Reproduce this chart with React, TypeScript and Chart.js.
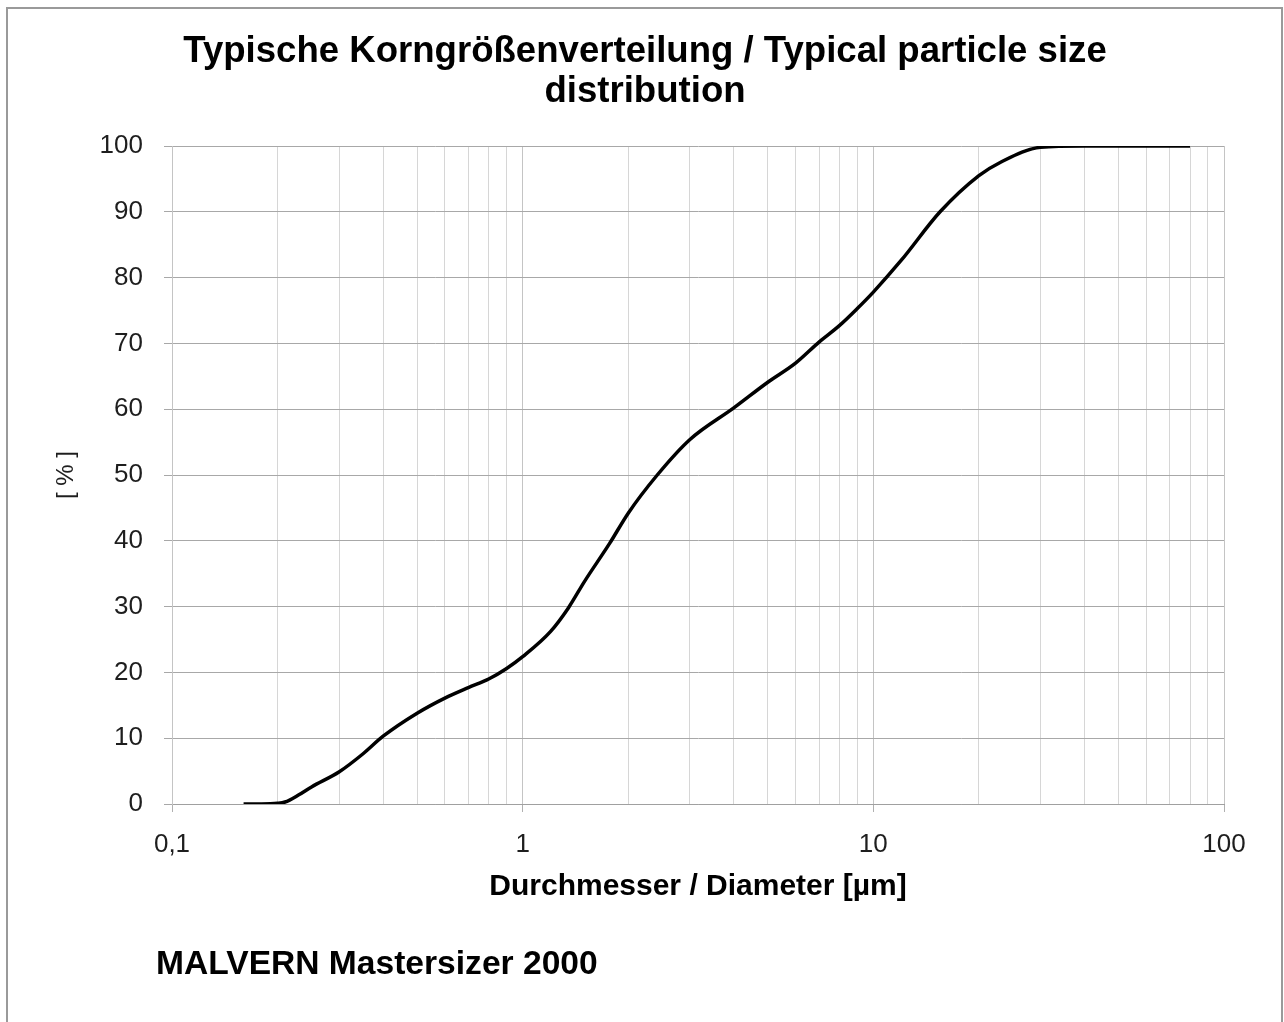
import React, { useEffect, useRef } from "react";
import { Chart, registerables } from "chart.js";

Chart.register(...registerables);

// ---- Text ----
const TITLE_LINES = ["Typische Korngrößenverteilung / Typical particle size", "distribution"];
const X_TITLE = "Durchmesser / Diameter [µm]";
const Y_TITLE = "[ % ]";
const FOOTNOTE = "MALVERN Mastersizer 2000";

// ---- Data ----
const diameters = [0.16, 0.18, 0.2, 0.21, 0.23, 0.25, 0.3, 0.35, 0.4, 0.5, 0.6, 0.7, 0.8, 0.9, 1, 1.2, 1.35, 1.5, 1.77, 2, 2.42, 3, 4, 5, 6, 7, 8, 9, 10, 12, 15.5, 20, 23, 30, 40, 50, 60, 80];
const cumulative = [0, 0, 0.1, 0.3, 1.4, 2.6, 4.9, 7.6, 10.3, 13.8, 16.1, 17.7, 19.0, 20.6, 22.4, 26.2, 29.8, 33.8, 39.6, 44.2, 50, 55.4, 60.2, 64.1, 67, 70.2, 72.7, 75.3, 77.8, 82.6, 90, 95.5, 97.5, 99.8, 100, 100, 100, 100];

// ---- Axis ticks ----
const xGridValues = [0.1, 0.2, 0.3, 0.4, 0.5, 0.6, 0.7, 0.8, 0.9, 1, 2, 3, 4, 5, 6, 7, 8, 9, 10, 20, 30, 40, 50, 60, 70, 80, 90, 100];
const xMajorValues = [0.1, 1, 10, 100];
const xMajorLabels = ["0,1", "1", "10", "100"];
const yMin = 0;
const yMax = 100;
const yStep = 10;

const FONT = '"Liberation Sans", Arial, sans-serif';

const majorIndex = (v: number | undefined) =>
  v === undefined ? -1 : xMajorValues.findIndex((m) => Math.abs(m - v) < 1e-9);

export default function App() {
  const ref = useRef<HTMLCanvasElement>(null);

  useEffect(() => {
    const canvas = ref.current;
    if (!canvas) return;

    const decorPlugin = {
      id: "decor",
      beforeDraw(chart: any) {
        const ctx = chart.ctx;
        ctx.save();
        ctx.fillStyle = "#ffffff";
        ctx.fillRect(0, 0, chart.width, chart.height);
        ctx.restore();
      },
      afterDraw(chart: any) {
        const ctx = chart.ctx;
        ctx.save();
        // frame
        ctx.fillStyle = "#9a9a9a";
        ctx.fillRect(6, 7, 1277, 2);
        ctx.fillRect(6, 7, 2, 1030);
        ctx.fillRect(1281, 7, 2, 1030);
        // title
        ctx.fillStyle = "#000000";
        ctx.font = `bold 36.6px ${FONT}`;
        ctx.textAlign = "center";
        ctx.textBaseline = "alphabetic";
        ctx.fillText(TITLE_LINES[0], 645, 62);
        ctx.fillText(TITLE_LINES[1], 645, 102);
        // footnote
        ctx.textAlign = "left";
        ctx.font = `bold 33.6px ${FONT}`;
        ctx.fillText(FOOTNOTE, 156, 974);
        ctx.restore();
      },
    };

    const chart = new Chart(canvas, {
      type: "line",
      data: {
        datasets: [
          {
            data: diameters.map((d, i) => ({ x: d, y: cumulative[i] })),
            borderColor: "#000000",
            borderWidth: 3.5,
            pointRadius: 0,
            cubicInterpolationMode: "monotone",
            fill: false,
          },
        ],
      },
      options: {
        responsive: false,
        animation: false,
        events: [],
        layout: { padding: { left: 0, right: 60, top: 146, bottom: 100 } },
        plugins: {
          legend: { display: false },
          tooltip: { enabled: false },
          title: { display: false },
        },
        scales: {
          x: {
            type: "logarithmic",
            min: 0.1,
            max: 100,
            afterBuildTicks: (scale: any) => {
              scale.ticks = xGridValues.map((v) => ({ value: v, major: majorIndex(v) >= 0 }));
            },
            afterFit: (scale: any) => {
              scale.height = 118;
            },
            grid: {
              color: (ctx: any) => (majorIndex(ctx.tick?.value) >= 0 ? "#c4c4c4" : "#d6d6d6"),
              lineWidth: 1,
              tickLength: 8,
              tickColor: (ctx: any) => (majorIndex(ctx.tick?.value) >= 0 ? "#b0b0b0" : "rgba(0,0,0,0)"),
            },
            border: { color: "#a0a0a0", width: 1 },
            ticks: {
              autoSkip: false,
              maxRotation: 0,
              padding: 17,
              color: "#1e1e1e",
              font: { family: FONT, size: 26 },
              callback: (value: any) => {
                const i = majorIndex(Number(value));
                return i >= 0 ? xMajorLabels[i] : "";
              },
            },
            title: {
              display: true,
              text: X_TITLE,
              color: "#000000",
              font: { family: FONT, size: 30, weight: "bold" },
              padding: { top: 0, bottom: 17 },
            },
          },
          y: {
            min: yMin,
            max: yMax,
            afterFit: (scale: any) => {
              scale.width = 172;
            },
            grid: {
              color: "#a8a8a8",
              lineWidth: 1,
              tickLength: 8,
              tickColor: "#a8a8a8",
            },
            border: { color: "#c4c4c4", width: 1 },
            ticks: {
              stepSize: yStep,
              padding: 21,
              color: "#1e1e1e",
              font: { family: FONT, size: 26 },
            },
            title: {
              display: true,
              text: Y_TITLE,
              color: "#1e1e1e",
              font: { family: FONT, size: 24 },
              padding: { top: 52, bottom: 0 },
            },
          },
        },
      },
      plugins: [decorPlugin],
    } as any);

    return () => chart.destroy();
  }, []);

  return (
    <div style={{ position: "absolute", left: 0, top: 0, width: 1284, height: 1022, overflow: "hidden" }}>
      <canvas ref={ref} width={1284} height={1022} style={{ display: "block" }} />
    </div>
  );
}
